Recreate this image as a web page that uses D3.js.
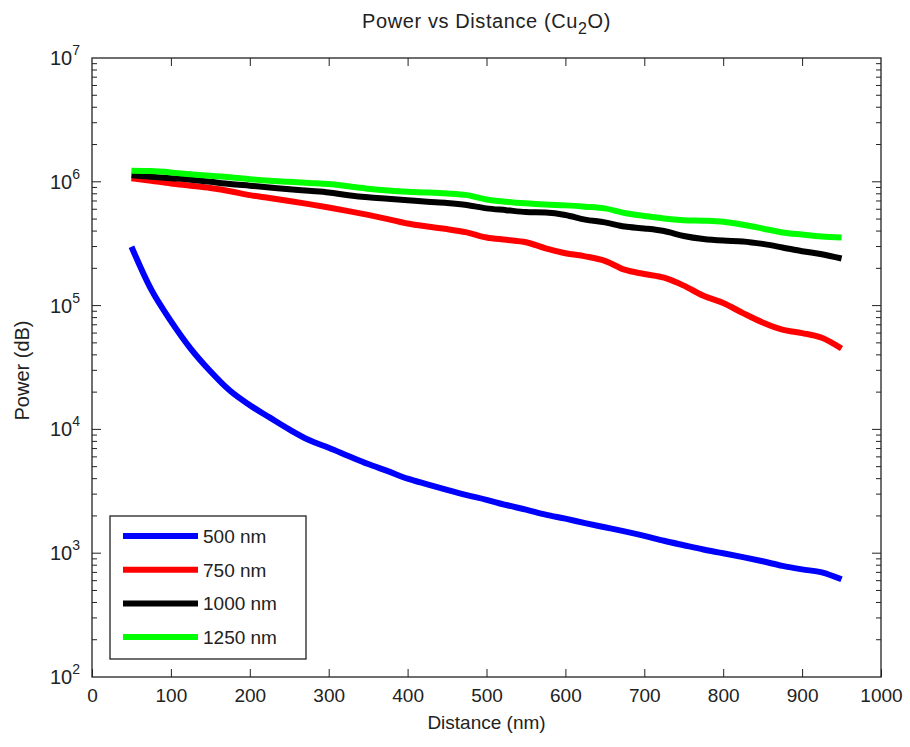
<!DOCTYPE html>
<html lang="en">
<head>
    <meta charset="UTF-8">
    <title>Power vs Distance (Cu2O)</title>
    <style>
        body, html {
            margin: 0;
            padding: 0;
            background-color: #fff;
        }
        svg text {
            font-family: "Liberation Sans", Arial, sans-serif;
            fill: #222;
        }
    </style>
</head>
<body>
    <div id="chart"></div>

    <script src="https://d3js.org/d3.v7.min.js"></script>
    <script>
        // distance (nm), sampled every 25 nm
        const distance = [50, 75, 100, 125, 150, 175, 200, 225, 250, 275, 300, 325, 350, 375, 400, 425, 450, 475, 500,
            525, 550, 575, 600, 625, 650, 675, 700, 725, 750, 775, 800, 825, 850, 875, 900, 925, 950];

        const p500 = [2.99e5, 1.35e5, 7.5e4, 4.5e4, 2.95e4, 2.05e4, 1.57e4, 1.25e4, 1.0e4, 8.2e3, 7.1e3, 6.1e3, 5.25e3,
            4.6e3, 4.0e3, 3.6e3, 3.25e3, 2.95e3, 2.7e3, 2.45e3, 2.25e3, 2.05e3, 1.9e3, 1.75e3, 1.62e3, 1.5e3, 1.38e3,
            1.26e3, 1.16e3, 1.07e3, 1.0e3, 930, 860, 790, 740, 700, 615];

        const p750 = [1.07e6, 1.02e6, 9.7e5, 9.3e5, 8.9e5, 8.4e5, 7.8e5, 7.4e5, 7.0e5, 6.6e5, 6.2e5, 5.8e5, 5.4e5,
            5.0e5, 4.6e5, 4.35e5, 4.15e5, 3.9e5, 3.55e5, 3.4e5, 3.25e5, 2.9e5, 2.65e5, 2.5e5, 2.3e5, 1.95e5, 1.8e5,
            1.68e5, 1.45e5, 1.2e5, 1.05e5, 8.7e4, 7.3e4, 6.4e4, 6.0e4, 5.5e4, 4.5e4];

        const p1000 = [1.13e6, 1.10e6, 1.07e6, 1.04e6, 1.0e6, 9.6e5, 9.3e5, 9.0e5, 8.7e5, 8.45e5, 8.2e5, 7.8e5, 7.5e5,
            7.3e5, 7.1e5, 6.9e5, 6.75e5, 6.5e5, 6.1e5, 5.9e5, 5.7e5, 5.65e5, 5.4e5, 4.95e5, 4.7e5, 4.35e5, 4.2e5,
            4.0e5, 3.65e5, 3.45e5, 3.35e5, 3.3e5, 3.15e5, 2.95e5, 2.75e5, 2.6e5, 2.4e5];

        const p1250 = [1.23e6, 1.22e6, 1.19e6, 1.15e6, 1.12e6, 1.09e6, 1.05e6, 1.02e6, 1.0e6, 9.8e5, 9.6e5, 9.2e5, 8.8e5,
            8.5e5, 8.3e5, 8.2e5, 8.05e5, 7.8e5, 7.2e5, 6.9e5, 6.7e5, 6.55e5, 6.45e5, 6.3e5, 6.1e5, 5.6e5, 5.3e5,
            5.05e5, 4.9e5, 4.85e5, 4.75e5, 4.5e5, 4.2e5, 3.9e5, 3.75e5, 3.62e5, 3.55e5];

        const seriesNames = ["500 nm", "750 nm", "1000 nm", "1250 nm"];
        const seriesColors = ["#0000ff", "#ff0000", "#000000", "#00ff00"];
        const seriesValues = [p500, p750, p1000, p1250];

        const xTicks = [0, 100, 200, 300, 400, 500, 600, 700, 800, 900, 1000];
        const yExponents = [2, 3, 4, 5, 6, 7];

        const width = 910, height = 747;
        const margin = { top: 58, right: 29, bottom: 70, left: 92 };
        const innerW = width - margin.left - margin.right;
        const innerH = height - margin.top - margin.bottom;

        const svg = d3.select("#chart")
            .append("svg")
            .attr("width", width)
            .attr("height", height);

        const g = svg.append("g")
            .attr("transform", `translate(${margin.left},${margin.top})`);

        const x = d3.scaleLinear().domain([0, 1000]).range([0, innerW]);
        const y = d3.scaleLog().domain([1e2, 1e7]).range([innerH, 0]);

        // x axis (ticks pointing inward), bottom and top
        const xAxis = g.append("g")
            .attr("transform", `translate(0,${innerH})`)
            .call(d3.axisBottom(x).tickValues(xTicks).tickSize(-8).tickPadding(12).tickFormat(d3.format("d")));
        xAxis.select(".domain").remove();
        xAxis.selectAll("text").attr("font-size", 19).attr("font-family", "Liberation Sans, Arial").attr("fill", "#222");
        xAxis.selectAll("line").attr("stroke", "#222");

        const xTop = g.append("g")
            .call(d3.axisTop(x).tickValues(xTicks.slice(1, -1)).tickSize(-8).tickFormat(""));
        xTop.select(".domain").remove();
        xTop.selectAll("line").attr("stroke", "#222");

        // y axis: minor ticks (all), major ticks at decades
        const minorTicks = y.ticks().filter(v => !yExponents.some(e => Math.abs(v - Math.pow(10, e)) < 1e-6));
        const majorTicks = yExponents.map(e => Math.pow(10, e));

        [0, innerW].forEach((xp, i) => {
            const dir = i === 0 ? 1 : -1;
            g.append("g").selectAll("line.minor")
                .data(minorTicks)
                .join("line")
                .attr("x1", xp).attr("x2", xp + dir * 5)
                .attr("y1", d => y(d)).attr("y2", d => y(d))
                .attr("stroke", "#222");
            g.append("g").selectAll("line.major")
                .data(majorTicks.slice(1, -1))
                .join("line")
                .attr("x1", xp).attr("x2", xp + dir * 9)
                .attr("y1", d => y(d)).attr("y2", d => y(d))
                .attr("stroke", "#222");
        });

        // y tick labels as 10^n
        const yLab = g.append("g").selectAll("text")
            .data(yExponents)
            .join("text")
            .attr("x", -12)
            .attr("y", d => y(Math.pow(10, d)) + 7)
            .attr("text-anchor", "end")
            .attr("font-size", 20);
        yLab.append("tspan").text("10");
        yLab.append("tspan").attr("dy", -10).attr("font-size", 14).text(d => d);

        // frame
        g.append("rect")
            .attr("width", innerW)
            .attr("height", innerH)
            .attr("fill", "none")
            .attr("stroke", "#222")
            .attr("stroke-width", 1.3);

        // lines
        const line = d3.line()
            .x((d, i) => x(distance[i]))
            .y(d => y(d))
            .curve(d3.curveMonotoneX);

        g.append("g")
            .selectAll("path")
            .data(seriesValues)
            .join("path")
            .attr("d", d => line(d))
            .attr("fill", "none")
            .attr("stroke", (d, i) => seriesColors[i])
            .attr("stroke-width", 6)
            .attr("stroke-linejoin", "round");

        // title
        const title = svg.append("text")
            .attr("x", margin.left + innerW / 2)
            .attr("y", 28)
            .attr("text-anchor", "middle")
            .attr("font-size", 20)
            .attr("letter-spacing", 0.6);
        title.append("tspan").text("Power vs Distance (Cu");
        title.append("tspan").attr("dy", 6).attr("font-size", 16).text("2");
        title.append("tspan").attr("dy", -6).text("O)");

        // axis titles
        svg.append("text")
            .attr("x", margin.left + innerW / 2)
            .attr("y", 729)
            .attr("text-anchor", "middle")
            .attr("font-size", 19)
            .text("Distance (nm)");

        svg.append("text")
            .attr("transform", `translate(29,${margin.top + innerH / 2 + 3}) rotate(-90)`)
            .attr("text-anchor", "middle")
            .attr("font-size", 20)
            .text("Power (dB)");

        // legend
        const legend = svg.append("g").attr("transform", "translate(110,516)");
        legend.append("rect")
            .attr("width", 196)
            .attr("height", 143)
            .attr("fill", "#fff")
            .attr("stroke", "#222")
            .attr("stroke-width", 1.3);

        const item = legend.selectAll("g.item")
            .data(seriesNames)
            .join("g")
            .attr("transform", (d, i) => `translate(0,${20 + i * 33.7})`);
        item.append("line")
            .attr("x1", 13).attr("x2", 88)
            .attr("stroke", (d, i) => seriesColors[i])
            .attr("stroke-width", 6);
        item.append("text")
            .attr("x", 93)
            .attr("y", 7)
            .attr("font-size", 19)
            .text(d => d);
    </script>
</body>
</html>
